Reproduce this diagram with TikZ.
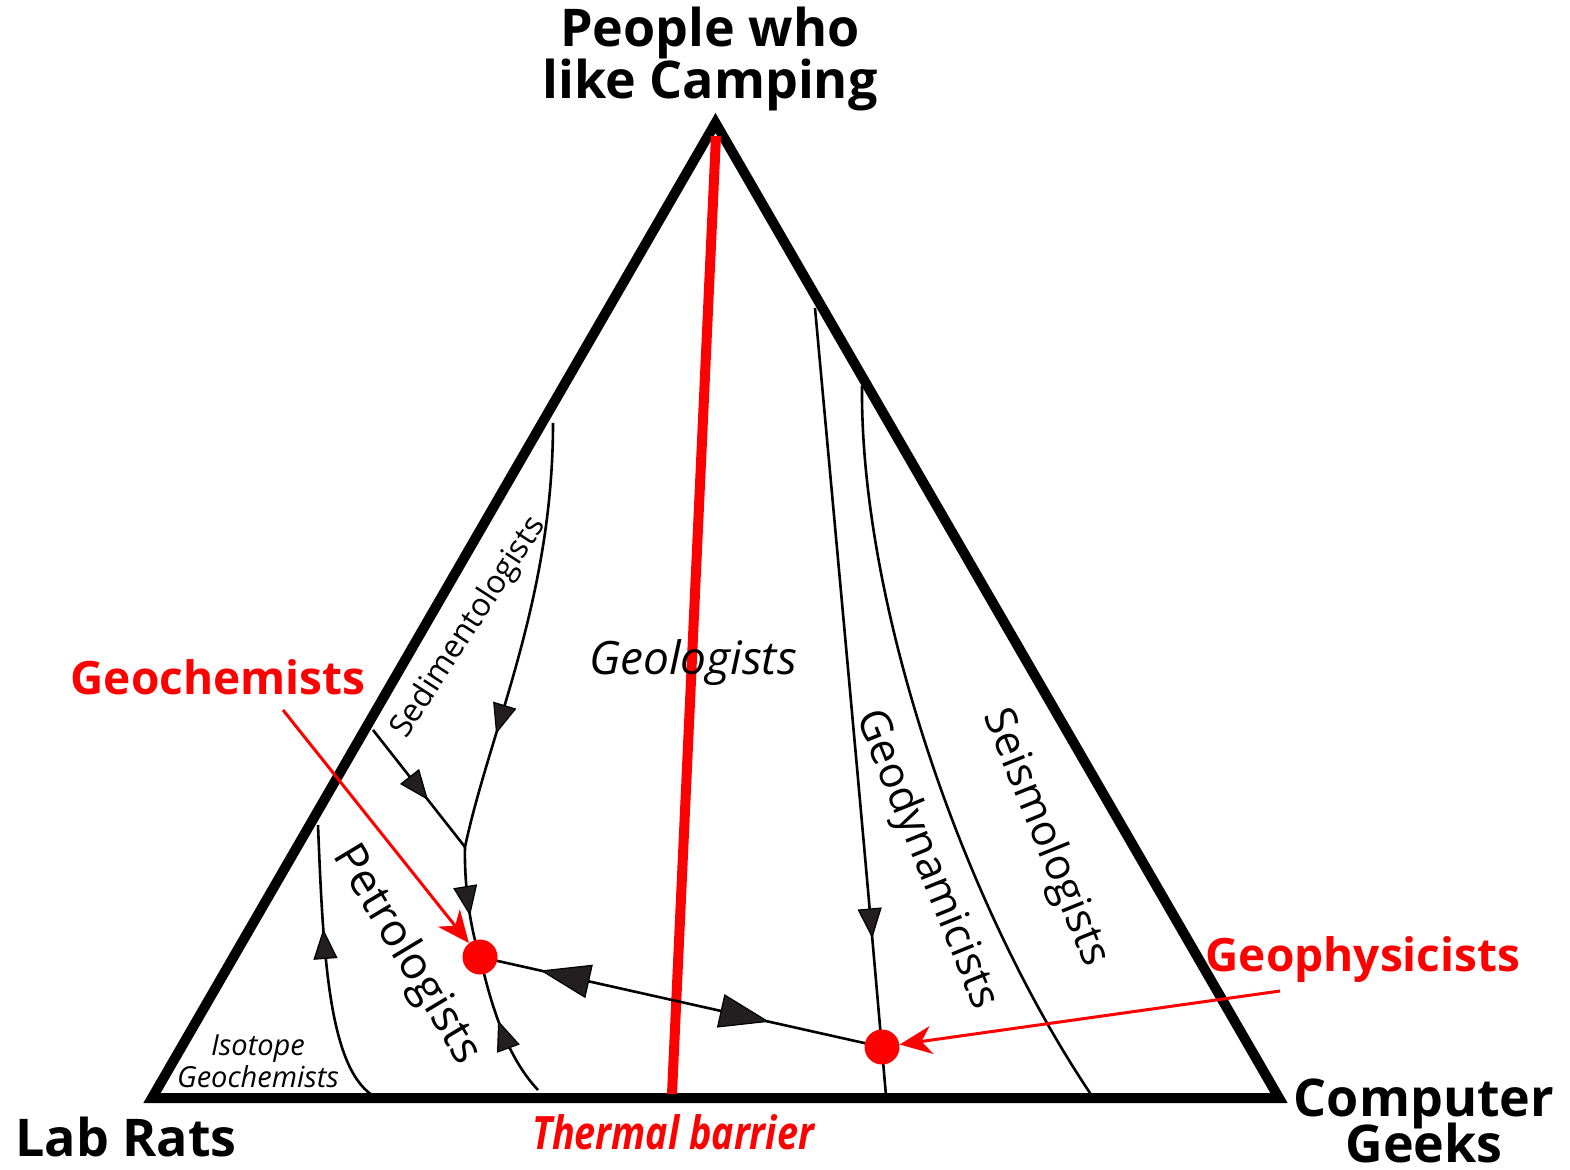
\documentclass[tikz,border=0pt]{standalone}
\usepackage{fontspec}
\setmainfont{Open Sans}
\usetikzlibrary{arrows.meta,decorations.markings}
\definecolor{tipfill}{HTML}{231F20}
\definecolor{hot}{HTML}{FF0000}
\begin{document}
\begin{tikzpicture}[x=0.5pt,y=-0.5pt,
  flowtip/.tip={Triangle[length=15pt,width=12pt,fill=tipfill,line width=0.6pt]},
  bigtip/.tip={Triangle[length=25pt,width=17pt,fill=tipfill,line width=0.6pt]},
  side/.style={line width=5pt,line join=miter},
  flow/.style={line width=1.3pt},
  redarrow/.style={draw=hot,line width=1.5pt,-{Stealth[length=16pt,width=14pt,inset=5pt]}},
  reddot/.style={circle,fill=hot,minimum size=17.5pt,inner sep=0pt},
  lbl/.style={inner sep=0pt,font=\bfseries\fontsize{26}{26}\selectfont},
  redlbl/.style={inner sep=0pt,text=hot,font=\bfseries\fontsize{23}{23}\selectfont},
  field/.style={inner sep=0pt,font=\fontsize{21.5}{21.5}\selectfont},
  markat/.style 2 args={postaction={decorate},decoration={markings,mark=at position #1 with {\arrow{#2}}}}
]
\useasboundingbox (0,0) rectangle (1570,1170);

% vertices
\coordinate (L) at (152,1098);
\coordinate (T) at (715.5,123);
\coordinate (R) at (1279,1098);
\coordinate (gcpt) at (480,957);
\coordinate (gppt) at (882,1047);

% triangle
\draw[side] (L) -- (T) -- (R) -- cycle;

% thermal barrier
\coordinate (tbtop) at (716,136);
\coordinate (tbbot) at (672,1094);
\draw[draw=hot,line width=5pt] (tbtop) -- (tbbot);

% sedimentologist path
\coordinate (s0) at (553,423);
\coordinate (s1) at (465,847);
\draw[flow,markat={0.73}{flowtip}] (s0) .. controls (553,600) and (490,730) .. (s1);
\draw[flow,markat={0.62}{flowtip}] (s1) .. controls (464,890) and (472,935) .. (gcpt);
% branch
\coordinate (b0) at (373,730);
\draw[flow,markat={0.6}{flowtip}] (b0) -- (s1);
% petrologist lower
\coordinate (p0) at (538,1090);
\draw[flow,markat={0.55}{flowtip}] (p0) .. controls (505,1055) and (490,1000) .. (gcpt);
% isotope
\coordinate (i0) at (372,1095);
\coordinate (i1) at (318,825);
\draw[flow,markat={0.63}{flowtip}] (i0) .. controls (328,1065) and (323,950) .. (i1);
% geodynamicists
\coordinate (g0) at (815,308);
\coordinate (g1) at (886,1096);
\draw[flow,markat={0.8}{flowtip}] (g0) .. controls (838,560) and (865,850) .. (g1);
% seismologists
\coordinate (e0) at (862,386);
\coordinate (e1) at (1092,1096);
\draw[flow] (e0) .. controls (860,600) and (960,900) .. (e1);
% connector between dots
\draw[flow,postaction={decorate},decoration={markings,
  mark=at position 0.72 with {\arrow{bigtip}},
  mark=at position 0.15 with {\arrowreversed{bigtip}}}] (gcpt) -- (gppt);

% dots
\node[reddot] (gc) at (gcpt) {};
\node[reddot] (gp) at (gppt) {};

% red arrows
\coordinate (gcstart) at (283,710);
\coordinate (gpstart) at (1280,991);
\draw[redarrow] (gcstart) -- (gc);
\draw[redarrow] (gpstart) -- (gp);

% labels
\node[lbl,anchor=base] (top1) at (710,47) {People who};
\node[lbl,anchor=base] (top2) at (710,99) {like Camping};
\node[lbl,anchor=base west] (lab) at (15,1156) {Lab Rats};
\node[lbl,anchor=base] (comp1) at (1424,1116) {Computer};
\node[lbl,anchor=base] (comp2) at (1424,1162) {Geeks};
\node[redlbl,anchor=base] (gchem) at (218,695) {Geochemists};
\node[redlbl,anchor=base] (gphys) at (1363,971) {Geophysicists};
\node[inner sep=0pt,anchor=base,font=\itshape\fontsize{23}{23}\selectfont] (geol) at (693,675) {Geologists};
\node[inner sep=0pt,anchor=base,text=hot,font=\bfseries\itshape\fontsize{23}{23}\selectfont] (therm) at (673,1149) {\scalebox{0.82}[1]{Thermal barrier}};
\node[inner sep=0pt,anchor=base,font=\itshape\fontsize{14.5}{14.5}\selectfont] (iso1) at (258,1055) {Isotope};
\node[inner sep=0pt,anchor=base,font=\itshape\fontsize{14.5}{14.5}\selectfont] (iso2) at (258,1087) {Geochemists};
\node[inner sep=0pt,rotate=57,font=\fontsize{16}{16}\selectfont] (sed) at (469,628) {Sedimentologists};
\node[inner sep=0pt,rotate=-59,font=\fontsize{22.5}{22.5}\selectfont] (pet) at (406,955) {Petrologists};
\node[field,rotate=-68] (geod) at (926,860) {Geodynamicists};
\node[field,rotate=-68] (seis) at (1045,838) {Seismologists};
\end{tikzpicture}
\end{document}
